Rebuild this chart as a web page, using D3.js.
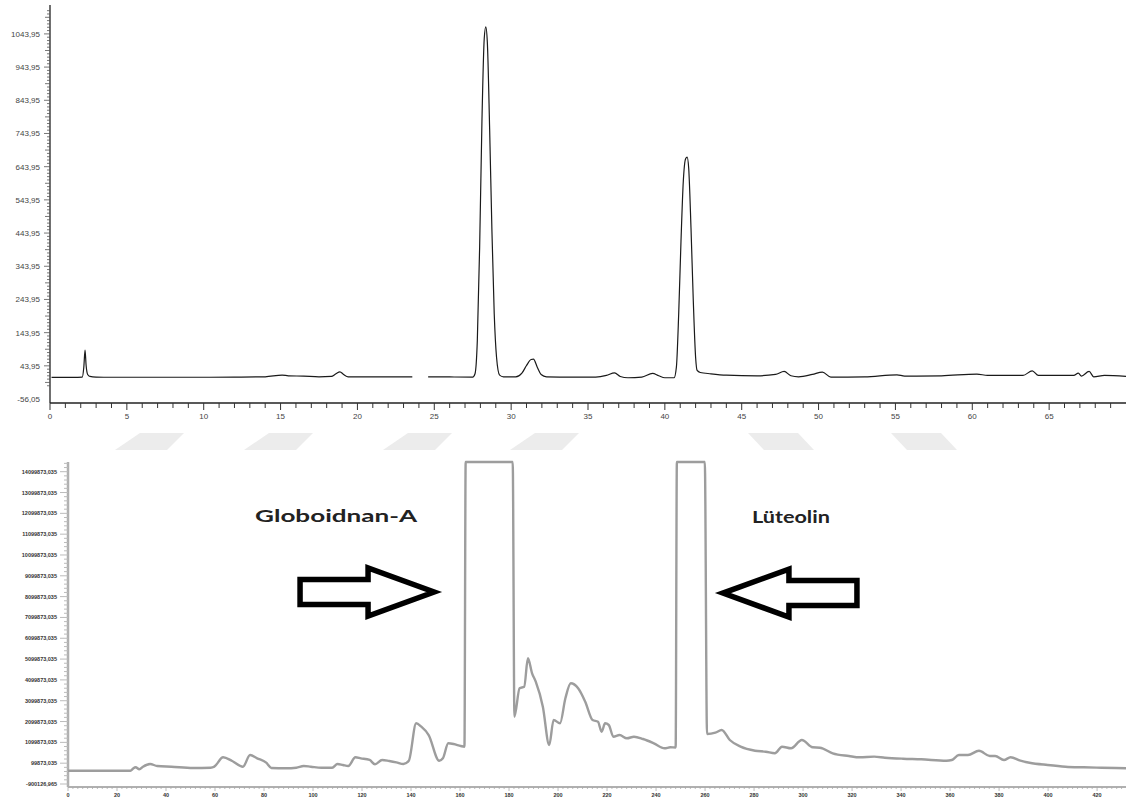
<!DOCTYPE html>
<html><head>
<meta charset="utf-8">
<script src="https://d3js.org/d3.v7.min.js"></script>
<style>
  body { margin: 0; background: #fff; }
  svg { display: block; }
  .trace-top { fill: none; stroke: #1a1a1a; stroke-width: 1.2; }
  .trace-bot { fill: none; stroke: #9d9d9d; stroke-width: 2.4; stroke-linejoin: round; }
</style>
</head>
<body>
<svg id="chart" width="1126" height="798"></svg>
<script>
// ---- top chromatogram (minutes / mAU) ----
var topTime = [0.1,1.5,2.1,2.2,2.28,2.35,2.45,2.6,3.0,3.5,6,10,12,14,15.1,15.5,16.5,17.5,18.3,18.6,18.86,19.1,19.4,21,23.57,
  23.6,24.6,26,27.5,27.65,27.8,27.95,28.1,28.25,28.35,28.45,28.6,28.75,28.9,29.05,29.25,29.5,30.3,30.7,31.0,31.3,31.45,31.7,31.95,32.3,
  34,35.5,36.2,36.73,37.1,37.6,38.5,39.2,39.6,40.0,40.6,40.75,40.9,41.05,41.2,41.35,41.45,41.55,41.7,41.85,42.0,42.1,42.3,43,44,46,
  47.2,47.76,48.2,48.7,49.6,50.25,50.8,53,55.1,55.6,58,60.3,61,63.3,63.9,64.3,66.6,66.9,67.1,67.6,67.9,68.6,70];
var topSignal = [9,9,10,40,91,45,18,12,10,9.5,9.5,9.5,10,11,16,14,13,11,12,20,26,18,11,10.5,10.5,
  null,11,10.5,10,20,120,400,780,1030,1065,1020,760,450,200,70,16,11,11,22,45,63,64,40,18,11,
  10,10,15,23,12,8,10,21,14,8,8,40,200,420,600,668,673,640,460,240,70,30,24,20,16,14,
  18,27,14,11,18,25,10,11,17,13,14,19,15,15,29,15,15,22,13,27,11,15,12];
var topYTicks = d3.range(-1, 11).map(function(k) { return 43.95 + 100 * k; });
var topXTicks = d3.range(0, 70, 5);

// ---- bottom chromatogram (zoomed view, clipped peaks) ----
var botX = [0,25.5,26.5,27.6,29.1,30.6,33.5,36.4,42.2,51.0,58.2,59.7,63.3,67.0,71.4,74.3,77.2,80.9,83.0,88.9,93.2,96.2,99.1,103.4,107.8,
  110.0,112.2,114.4,117.3,119.5,123.1,125.3,128.2,131.1,134.0,136.9,139.1,142.1,144.2,147.2,151.5,153.0,155.2,157.4,160.3,161.8,
  162.3,172,181.5,182.2,184.3,186.2,187.7,189.4,190.9,193.8,196.4,198.2,200.8,203.0,205.2,208.2,211.1,214.1,216.3,217.8,219.2,220.7,
  222.6,225.1,228.1,231.0,234.7,239.1,243.5,245.8,248.0,248.5,254,259.9,260.8,264.2,266.8,270.1,274.5,280.4,284.8,288.5,291.4,295.1,
  299.5,303.9,306.9,312.1,318.7,323.1,329.0,333.4,340.8,348.2,358.5,360.7,363.6,367.3,371.8,376.2,378.4,382.0,384.7,388.7,392.4,
  399.8,407.1,414.5,421.8,431.8];
var botSignal = [-0.261,-0.261,-0.165,-0.098,-0.194,-0.069,0.061,-0.035,-0.069,-0.131,-0.117,-0.069,0.382,0.205,-0.069,0.493,0.334,0.123,-0.131,-0.146,-0.117,-0.035,-0.069,-0.117,-0.117,
  0.061,0.013,-0.035,0.382,0.334,0.253,0.046,0.253,0.205,0.142,0.061,0.219,2.015,1.852,1.453,0.219,0.334,1.055,1.021,0.925,0.892,
  40,60,40,2.332,3.697,3.773,5.137,4.417,4.014,2.813,0.973,2.174,2.015,3.216,3.937,3.697,3.053,2.174,2.092,1.612,2.015,1.934,
  1.372,1.453,1.295,1.372,1.261,1.055,0.815,0.863,0.85,40,60,40,1.502,1.564,1.694,1.213,0.892,0.699,0.651,0.575,0.892,0.815,
  1.213,0.863,0.844,0.575,0.445,0.382,0.413,0.364,0.316,0.287,0.219,0.253,0.493,0.493,0.699,0.445,0.445,0.253,0.382,0.219,0.123,
  0.013,-0.069,-0.098,-0.117,-0.146];
var botYTicks = d3.range(0, 16).map(function(k) { return -0.900126965 + k; });
var botXTicks = d3.range(0, 421, 20);

var annotations = [
  {label: "Globoidnan-A", tipX: 149.4, tipY: 8.32, dir: 1, textDx: -98, textW: 162},
  {label: "Lüteolin", tipX: 267.3, tipY: 8.27, dir: -1, textDx: 68, textW: 78}
];
// light watermark bands behind the page (x of top-left corner, slant direction)
var watermark = [[140, 1], [269, 1], [408, 1], [535, 1], [748, -1], [891, -1]];

var svg = d3.select("#chart");

// watermark
svg.append("g").selectAll("polygon").data(watermark).enter().append("polygon")
  .attr("points", function(d) {
    var x = d[0], s = d[1];
    if (s > 0) return [[x, 433], [x + 44, 433], [x + 27, 450], [x - 25, 450]].join(" ");
    return [[x, 433], [x + 50, 433], [x + 66, 450], [x + 16, 450]].join(" ");
  })
  .style("fill", "#ececec");

// ================= TOP =================
var xT = d3.scaleLinear().domain([0, 70]).range([50, 1126]);
var yT = d3.scaleLinear().domain([-68, 1131]).range([403, 5]);

var gT = svg.append("g");
// y axis with minor ticks
gT.append("line").attr("x1", 50).attr("x2", 50).attr("y1", yT(1131)).attr("y2", yT(-68))
  .style("stroke", "#222").style("stroke-width", 1.3);
var minorY = d3.range(-6, 108).map(function(k) { return 43.95 + 10 * k; })
  .filter(function(v) { return v >= -68 && v <= 1131; });
gT.append("g").selectAll("line").data(minorY).enter().append("line")
  .attr("x1", function(v) { var k = Math.round((v - 43.95) / 10); return k % 10 === 0 ? 44 : (k % 5 === 0 ? 45 : 47); })
  .attr("x2", 50)
  .attr("y1", function(v) { return yT(v); }).attr("y2", function(v) { return yT(v); })
  .style("stroke", "#555").style("stroke-width", 0.8);
gT.append("g").selectAll("text").data(topYTicks).enter().append("text")
  .attr("x", 40).attr("y", function(v) { return yT(v) + 3; })
  .attr("text-anchor", "end")
  .style("font-family", "Liberation Sans, Arial, sans-serif").style("font-size", "8px").style("fill", "#444")
  .text(function(v) { return v.toFixed(2).replace(".", ","); });

// x axis
gT.append("line").attr("x1", 50).attr("x2", 1126).attr("y1", 403).attr("y2", 403)
  .style("stroke", "#222").style("stroke-width", 1.3);
gT.append("g").selectAll("line").data(d3.range(0, 70)).enter().append("line")
  .attr("x1", function(d) { return xT(d); }).attr("x2", function(d) { return xT(d); })
  .attr("y1", 403).attr("y2", function(d) { return d % 5 === 0 ? 410 : 408; })
  .style("stroke", "#333").style("stroke-width", 1);
gT.append("g").selectAll("text").data(topXTicks).enter().append("text")
  .attr("x", function(d) { return xT(d); }).attr("y", 419)
  .attr("text-anchor", "middle")
  .style("font-family", "Liberation Sans, Arial, sans-serif").style("font-size", "8px").style("fill", "#444")
  .text(function(d) { return d; });

var topLine = d3.line()
  .defined(function(d) { return d[1] !== null; })
  .x(function(d) { return xT(d[0]); })
  .y(function(d) { return yT(d[1]); })
  .curve(d3.curveMonotoneX);
gT.append("path").attr("class", "trace-top")
  .datum(topTime.map(function(t, i) { return [t, topSignal[i]]; }))
  .attr("d", topLine);

// ================= BOTTOM =================
var yTop = 462;
var xB = d3.scaleLinear().domain([0, 431.8]).range([68, 1126]);
// 1 unit (1e6) per 20.82 px, bottom tick at y=784, ceiling clamped at the frame top
var yB = d3.scaleLinear().domain([-0.900126965, -0.900126965 + (784 - yTop) / 20.82])
  .range([784, yTop]).clamp(true);
var yCeil = yB.domain()[1];

var gB = svg.append("g");
gB.append("line").attr("x1", 68).attr("x2", 68).attr("y1", yTop).attr("y2", 787)
  .style("stroke", "#b0b0b0").style("stroke-width", 2.5);
var minorBY = d3.range(-0.900126965, yCeil, 0.2);
gB.append("g").selectAll("line").data(minorBY).enter().append("line")
  .attr("x1", function(v, i) { return i % 5 === 0 ? 60 : 64; }).attr("x2", 68)
  .attr("y1", function(v) { return yB(v); }).attr("y2", function(v) { return yB(v); })
  .style("stroke", "#bbb").style("stroke-width", 1);
gB.append("g").selectAll("text").data(botYTicks).enter().append("text")
  .attr("x", 57).attr("y", function(v) { return yB(v) + 2; })
  .attr("text-anchor", "end")
  .style("font-family", "Liberation Sans, Arial, sans-serif").style("font-size", "5.5px")
  .style("font-weight", "bold").style("fill", "#333")
  .text(function(v) { return (v * 1e6).toFixed(3).replace(".", ","); });

gB.append("line").attr("x1", 68).attr("x2", 1126).attr("y1", 787).attr("y2", 787)
  .style("stroke", "#b0b0b0").style("stroke-width", 2);
gB.append("g").selectAll("line").data(d3.range(0, 432, 2)).enter().append("line")
  .attr("x1", function(d) { return xB(d); }).attr("x2", function(d) { return xB(d); })
  .attr("y1", 787).attr("y2", function(d) { return d % 20 === 0 ? 791 : 789; })
  .style("stroke", "#aaa").style("stroke-width", 0.8);
gB.append("g").selectAll("text").data(botXTicks).enter().append("text")
  .attr("x", function(d) { return xB(d); }).attr("y", 797)
  .attr("text-anchor", "middle")
  .style("font-family", "Liberation Sans, Arial, sans-serif").style("font-size", "5.5px")
  .style("font-weight", "bold").style("fill", "#333")
  .text(function(d) { return d; });

var botLine = d3.line()
  .x(function(d) { return xB(d[0]); })
  .y(function(d) { return yB(d[1]); })
  .curve(d3.curveMonotoneX);
gB.append("path").attr("class", "trace-bot")
  .datum(botX.map(function(t, i) { return [t, botSignal[i]]; }))
  .attr("d", botLine);

// annotations: label + block arrow
annotations.forEach(function(a) {
  var tx = xB(a.tipX), ty = yB(a.tipY), s = a.dir;
  var tail = tx - s * 134, base = tx - s * 66;
  var pts = [[tail, ty - 12.5], [base, ty - 12.5], [base, ty - 24], [tx, ty],
             [base, ty + 24], [base, ty + 12.5], [tail, ty + 12.5]];
  gB.append("polygon").attr("points", pts.join(" "))
    .style("fill", "#fff").style("stroke", "#000").style("stroke-width", 5.5)
    .style("stroke-linejoin", "miter");
  gB.append("text")
    .attr("x", tx + a.textDx - a.textW / 2).attr("y", ty - 70)
    .attr("textLength", a.textW).attr("lengthAdjust", "spacingAndGlyphs")
    .style("font-family", "Lato, 'Open Sans', sans-serif").style("font-weight", "bold")
    .style("font-size", "17px").style("fill", "#222")
    .text(a.label);
});
</script>
</body></html>
